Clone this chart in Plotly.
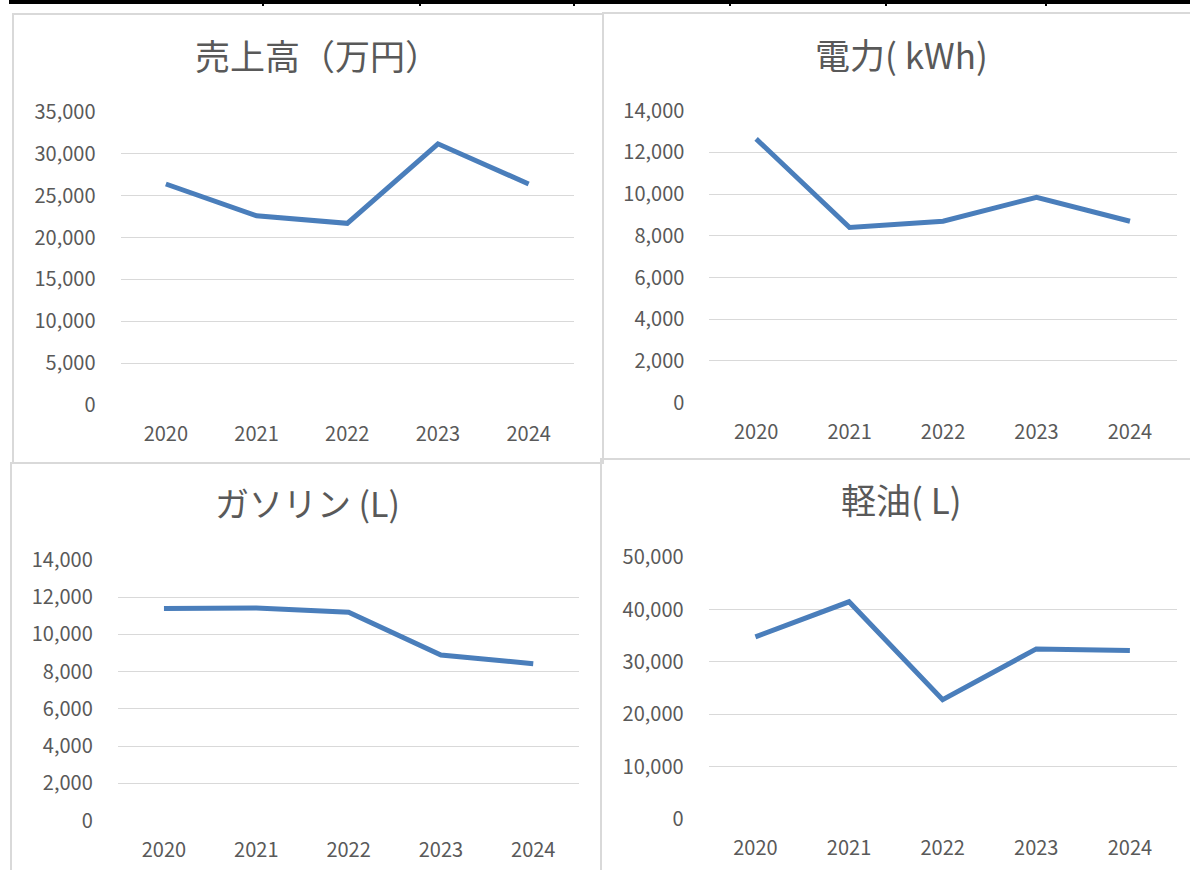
import plotly.graph_objects as go

W, H = 1190, 870

years = ["2020", "2021", "2022", "2023", "2024"]
sales = [26400, 22600, 21700, 31200, 26400]          # 売上高（万円）
power = [12650, 8400, 8700, 9850, 8700]              # 電力（kWh）
gasoline = [11400, 11420, 11200, 8900, 8430]         # ガソリン（L）
diesel = [34800, 41500, 22800, 32500, 32200]         # 軽油（L）

titles = ["売上高（万円）", "電力( kWh)", "ガソリン (L)", "軽油( L)"]
series = [sales, power, gasoline, diesel]
ymax = [35000, 14000, 14000, 50000]
ydtick = [5000, 2000, 2000, 10000]

# plot-area pixel boxes (x0, x1, ytop, ybottom) and title centres
areas = [(120.5, 574, 112, 405), (709.4, 1176.7, 110.7, 402.7),
         (117.8, 579.4, 560, 820.7), (708.6, 1176.7, 557.3, 819)]
title_pos = [(317, 54), (901, 53), (307, 502), (901, 498)]
title_size = [35, 35, 34, 35]
borders = [(13, 14, 603, 463), (603, 13, 1196, 459),
           (11, 463, 601, 876), (601, 459, 1196, 876)]

def px(x):
    return x / W

def py(y):
    return 1 - y / H

LINE = "#4a7ebb"
GRID = "#d9d9d9"
TXT = "#595959"
FONT = "Noto Sans CJK JP"

fig = go.Figure()
shapes = []
annotations = []

for i in range(4):
    n = "" if i == 0 else str(i + 1)
    x0, x1, yt, yb = areas[i]
    fig.add_trace(go.Scatter(x=years, y=series[i], mode="lines",
                             line=dict(color=LINE, width=5),
                             xaxis="x" + n, yaxis="y" + n,
                             showlegend=False, hoverinfo="x+y"))
    fig.update_layout(**{
        "xaxis" + n: dict(domain=[px(x0), px(x1)], type="category",
                          range=[-0.5, 4.5], showgrid=False, showline=False,
                          zeroline=False, ticks="", anchor="y" + n,
                          tickfont=dict(family=FONT, size=20, color=TXT),
                          ticklabelstandoff=15, fixedrange=True),
        "yaxis" + n: dict(domain=[py(yb), py(yt)], range=[0, ymax[i]],
                          dtick=ydtick[i], tickformat=",", showgrid=True,
                          gridcolor=GRID, gridwidth=1.3, zeroline=False,
                          showline=False, ticks="", anchor="x" + n,
                          tickfont=dict(family=FONT, size=20, color=TXT),
                          ticklabelstandoff=24, fixedrange=True),
    })
    bx0, by0, bx1, by1 = borders[i]
    shapes.append(dict(type="rect", xref="paper", yref="paper",
                       x0=px(bx0), x1=px(bx1), y0=py(by1), y1=py(by0),
                       line=dict(color=GRID, width=2), layer="below"))
    tx, ty = title_pos[i]
    annotations.append(dict(text=titles[i], xref="paper", yref="paper",
                            x=px(tx), y=py(ty), xanchor="center",
                            yanchor="middle", showarrow=False,
                            font=dict(family=FONT, size=title_size[i],
                                      color=TXT)))

# table border at the very top
shapes.append(dict(type="rect", xref="paper", yref="paper",
                   x0=px(9), x1=px(1195), y0=py(4), y1=py(-2),
                   fillcolor="black", line=dict(width=0)))
for xd in [263, 420, 574, 730, 886, 1046]:
    shapes.append(dict(type="line", xref="paper", yref="paper",
                       x0=px(xd), x1=px(xd), y0=py(0), y1=py(6),
                       line=dict(color="black", width=2)))

fig.update_layout(width=W, height=H,
                  margin=dict(l=0, r=0, t=0, b=0, pad=0, autoexpand=False),
                  paper_bgcolor="white", plot_bgcolor="white",
                  shapes=shapes, annotations=annotations,
                  font=dict(family=FONT, color=TXT))

fig.write_html("out.html", config={"displayModeBar": False},
               post_script="document.body.style.margin='0';"
                           "document.body.style.overflow='hidden';")
